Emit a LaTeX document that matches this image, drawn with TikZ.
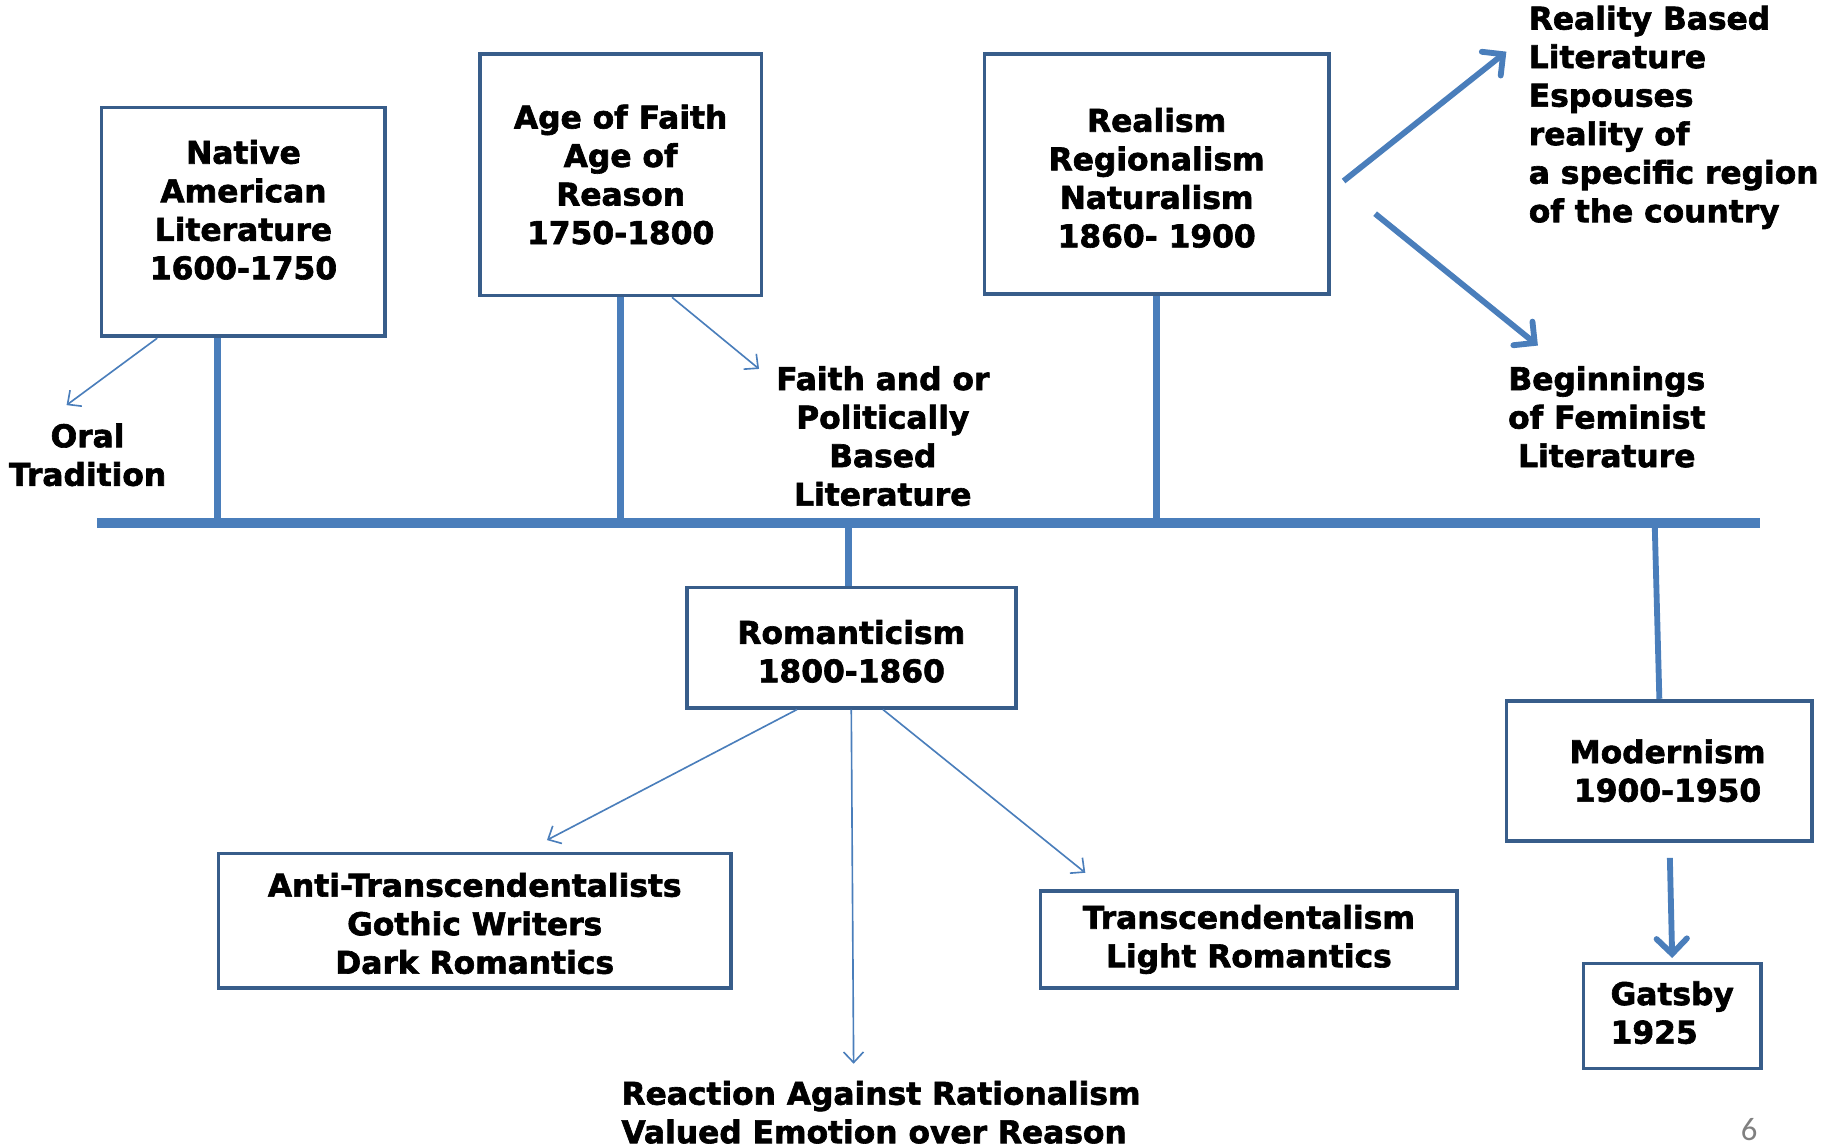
\documentclass[tikz,border=0pt]{standalone}
\usepackage{fontspec}
\setmainfont{DejaVu Sans}[BoldFeatures={FakeBold=2}]
\newfontfamily\pagefont{Carlito}
\usetikzlibrary{arrows.meta,calc}
\definecolor{lineblue}{HTML}{4A7EBB}
\definecolor{boxblue}{HTML}{385D8A}

\begin{document}
\begin{tikzpicture}[x=1pt,y=-1pt,
	txt/.style={font=\bfseries\fontsize{26.8}{33}\selectfont,align=center,inner sep=0pt},
	box/.style={txt,draw=boxblue,line width=3.2pt},
	stem/.style={lineblue,line width=6pt},
	thin/.style={lineblue,line width=1.4pt,-{Straight Barb[length=9pt,width=17pt]}},
	thick/.style={lineblue,line width=5pt,-{Straight Barb[length=13pt,width=26pt,line cap=round]}}]
		\useasboundingbox (0,0) rectangle (1568,983);
		% timeline
		\coordinate (tlL) at (83,448);
		\coordinate (tlR) at (1507,448);
		\draw[lineblue,line width=9pt] (tlL) -- (tlR);
		% periods
		\node[box,minimum width=243pt,minimum height=196pt] (native) at (208.5,190) {Native\\American\\Literature\\1600-1750\\[-12pt]\mbox{}};
		\node[box,minimum width=241pt,minimum height=207pt] (age) at (531.5,149.5) {Age of Faith\\Age of\\Reason\\1750-1800};
		\node[box,minimum width=295pt,minimum height=206pt] (realism) at (990.5,149) {\mbox{}\\[-6pt]Realism\\Regionalism\\Naturalism\\1860- 1900};
		\node[box,minimum width=282pt,minimum height=103pt] (rom) at (729,554.5) {\mbox{}\\[-6pt]Romanticism\\1800-1860};
		\node[box,minimum width=262pt,minimum height=120pt] (modern) at (1421,660) {\hspace*{14pt}Modernism\\\hspace*{14pt}1900-1950};
		\node[box,minimum width=439pt,minimum height=115pt] (anti) at (406.5,788.5) {\mbox{}\\[-8pt]Anti-Transcendentalists\\Gothic Writers\\Dark Romantics};
		\node[box,minimum width=357pt,minimum height=83pt] (trans) at (1069.5,804.5) {Transcendentalism\\Light Romantics};
		\node[box,align=left,minimum width=152pt,minimum height=90pt] (gatsby) at (1432,870) {Gatsby\\1925\\[-27pt]\mbox{}};
		% loose texts
		\node[txt] (oral) at (75,389.5) {Oral\\Tradition};
		\node[txt] (faith) at (756,373.5) {Faith and or\\Politically\\Based\\Literature};
		\node[txt,align=left,anchor=west] (reality) at (1309,100.5) {Reality Based\\Literature\\Espouses\\reality of\\a specific region\\of the country};
		\node[txt] (begin) at (1376,357) {Beginnings\\of Feminist\\Literature};
		\node[txt,align=left,anchor=west] (reaction) at (532,952.5) {Reaction Against Rationalism\\Valued Emotion over Reason};
		\node[font=\pagefont\fontsize{28}{28}\selectfont,text=gray] (pnum) at (1498,967) {6};
		% stems
		\coordinate (nstem) at ($(native.south west)!0.41!(native.south east)$);
		\draw[stem] (nstem) -- (nstem |- tlL);
		\draw[stem] (age.south) -- (age.south |- tlL);
		\draw[stem] (realism.south) -- (realism.south |- tlL);
		\coordinate (rstem) at ($(rom.north)+(-2,0)$);
		\draw[stem] (rstem) -- (rstem |- tlL);
		\coordinate (mstem) at (1417,448);
		\draw[lineblue,line width=5pt] (mstem) -- (modern.north);
		% arrows
		\draw[thin] ($(native.south west)!0.2!(native.south east)$) -- ($(oral.north)+(-18,-15.5)$);
		\draw[thin] ($(age.south west)!0.68!(age.south east)$) -- ($(faith.north)+(-106,2.5)$);
		\draw[thin] ($(rom.south west)!0.337!(rom.south east)$) -- ($(anti.north west)!0.64!(anti.north east)+(0,-10)$);
		\draw[thin] (rom.south) -- ($(reaction.north west)+(199,-14.5)$);
		\draw[thin] ($(rom.south west)!0.595!(rom.south east)$) -- ($(trans.north west)+(40,-14)$);
		\draw[thick] ($(realism.east)+(11,6)$) -- ($(reality.north west)+(-19,39.5)$);
		\draw[thick] ($(realism.east)+(38,34)$) -- ($(begin.north)+(-59,-17.5)$);
		\draw[thick] ($(modern.south)+(9,13)$) -- ($(gatsby.north)+(0,-3)$);
\end{tikzpicture}
\end{document}
